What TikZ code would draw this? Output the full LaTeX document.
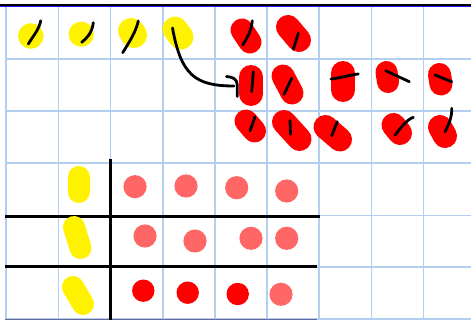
\documentclass[tikz,border=0pt]{standalone}
\usetikzlibrary{arrows.meta}
\definecolor{gridblue}{RGB}{178,206,240}
\definecolor{pinkred}{RGB}{255,102,102}
\definecolor{topblue}{RGB}{30,30,230}
\tikzset{
  gridline/.style={draw=gridblue,line width=1.6pt},
  thickblack/.style={draw=black,line width=2.6pt},
  ycap/.style={draw=yellow,line width=#1,line cap=round},
  ycap/.default=22pt,
  rcap/.style={draw=red,line width=#1,line cap=round},
  rcap/.default=23pt,
  pinkdot/.style={fill=pinkred},
  reddot/.style={fill=red},
  pen/.style={draw=black,line width=2.8pt,line cap=round,line join=round},
}
\begin{document}
\begin{tikzpicture}[x=1pt,y=-1pt]
\useasboundingbox (0,0) rectangle (471,320);
\fill[white] (0,0) rectangle (471,320);
% grid
\foreach \x in {6,58.3,110.5,162.7,215,267,319.2,371.4,423.5}
  \draw[gridline] (\x,6) -- (\x,320);
\foreach \y in {59,111,162.8,215.6,267,319}
  \draw[gridline] (6,\y) -- (471,\y);
\draw[draw=topblue,line width=1.1pt] (0,6.3) -- (471,6.3);
\draw[draw=black,line width=1.3pt] (0,5.1) -- (471,5.1);
\draw[draw=gray!80!blue,line width=1pt] (5,319.5) -- (317,319.5);
% black separators
\draw[thickblack] (110.3,159) -- (110.3,320);
\draw[thickblack] (5,216.6) -- (320,216.6);
\draw[thickblack] (5,266.8) -- (317,266.8);
% top row yellow
\fill[yellow] (30.8,36) circle (12.8);
\fill[yellow] (81.2,34.2) circle (12.6);
\draw[ycap=26pt] (131,31) -- (134,35);
\draw[ycap=25pt] (175,29) -- (181,37);
\draw[pen] (28.3,44) .. controls (33,36) and (39,30) .. (40.7,20.7);
\draw[pen] (81.7,42.3) .. controls (87,38) and (92,33) .. (93.3,22.7);
\draw[pen] (122.7,52.7) .. controls (128,44) and (136,32) .. (138.3,21);
% red blobs row 1
\draw[rcap] (242,30) -- (250,42);
\draw[rcap=24pt] (288,27) -- (299,40);
\draw[pen] (242.7,45) .. controls (247,38) and (251,32) .. (252.3,20.7);
\draw[pen] (293.3,49.3) -- (298.3,33.3);
% red blobs row 2
\draw[rcap=24pt] (251,77) -- (251,94);
\draw[rcap] (283,76) -- (292,93);
\draw[rcap=24pt] (343,73) -- (343,90);
\draw[rcap=22pt] (386.5,72) -- (388,82);
\draw[rcap] (439.5,74.5) -- (441,84);
\draw[pen] (253.3,71.7) -- (251.7,91.7);
\draw[pen] (284,94.3) -- (291.7,78.3);
\draw[pen] (331,79) .. controls (340,78) and (350,75) .. (358.3,74);
\draw[pen] (385.7,70.7) -- (409.3,81.7);
\draw[pen] (435,75) -- (451.7,81.7);
% red blobs row 3
\draw[rcap] (246,121) -- (254.5,131);
\draw[rcap=24pt] (284,122) -- (299.5,139);
\draw[rcap=24pt] (325.5,127) -- (340,139.5);
\draw[rcap=24pt] (393.5,125) -- (400,133);
\draw[rcap=24pt] (440,127) -- (445,136);
\draw[pen] (250,131) -- (255,116.7);
\draw[pen] (290,120.5) -- (290.5,134.3);
\draw[pen] (331.7,135.7) -- (337.3,121.7);
\draw[pen] (395,135) .. controls (400,129) and (406,120) .. (413.3,117.3);
\draw[pen] (445,131.7) .. controls (449,124) and (452,117) .. (451.7,108.3);
% arrow from yellow blob to red blob
\coordinate (ystart) at (172.5,28);
\coordinate (rend) at (234,86);
\draw[pen] (ystart) .. controls (181,75) and (195,86) .. (rend);
\draw[pen] (226.5,76.5) .. controls (233,77) and (237,79) .. (237.3,85) -- (237.3,96.5);
% lower yellow
\draw[ycap] (78.5,177) -- (78.5,192);
\draw[ycap] (74,227) -- (80.5,248);
\draw[ycap] (73,287) -- (83,304);
% dots
\foreach \p in {(135,186.7),(186,186),(236.7,187.7),(286.7,191),
                (145,236),(195,241),(251,238.3),(286.7,238.3),(281,294.3)}
  \fill[pinkdot] \p circle (11.6);
\foreach \p in {(143.3,290.7),(187.7,292.7),(237.7,294)}
  \fill[reddot] \p circle (11.2);
\end{tikzpicture}
\end{document}
